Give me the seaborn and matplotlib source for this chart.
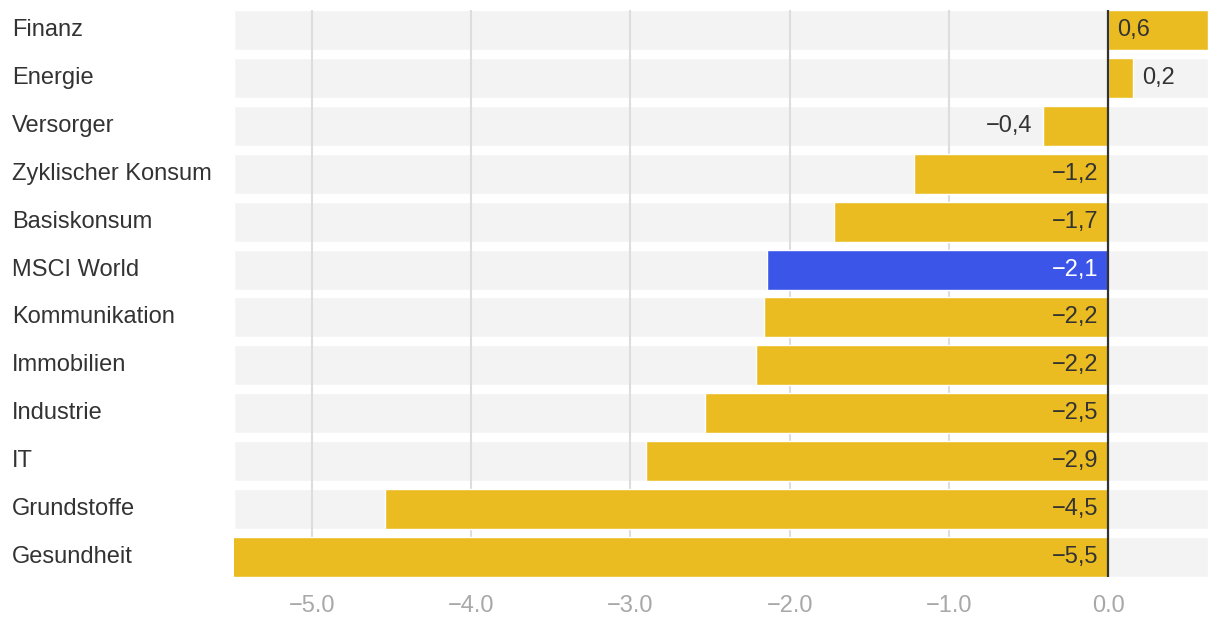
import matplotlib
matplotlib.use("Agg")
import matplotlib.pyplot as plt
from matplotlib.transforms import Bbox
import seaborn as sns
import numpy as np

categories = ["Finanz", "Energie", "Versorger", "Zyklischer Konsum", "Basiskonsum",
              "MSCI World", "Kommunikation", "Immobilien", "Industrie", "IT",
              "Grundstoffe", "Gesundheit"]
values = [0.63, 0.16, -0.41, -1.22, -1.72, -2.14, -2.16, -2.21, -2.53, -2.90, -4.54, -5.50]
value_labels = ["0,6", "0,2", "−0,4", "−1,2", "−1,7", "−2,1", "−2,2", "−2,2", "−2,5", "−2,9", "−4,5", "−5,5"]
highlight = "MSCI World"
tick_values = [-5.0, -4.0, -3.0, -2.0, -1.0, 0.0]
tick_labels = ["−5.0", "−4.0", "−3.0", "−2.0", "−1.0", "0.0"]

YELLOW = "#EBBC22"
BLUE = "#3A55E8"
BAND = "#F3F3F3"
GRID = "#DDDDDD"
TEXT = "#333333"

sns.set_theme(style="white")
plt.rcParams["font.family"] = ["Liberation Sans", "DejaVu Sans"]

fig = plt.figure(figsize=(12.2, 6.2), dpi=100)
ax = fig.add_axes([234/1220, 1 - 577/620, (1208-234)/1220, (577-10)/620])

xmin, xmax = -5.49, 0.628
bar_h = 40/48

# background bands
ax.barh(np.arange(len(categories)), [xmax - xmin]*len(categories), left=xmin,
        height=bar_h, color=BAND, zorder=0)
# grid lines
for t in tick_values[:-1]:
    ax.axvline(t, color=GRID, lw=1.5, zorder=1)

palette = {c: (BLUE if c == highlight else YELLOW) for c in categories}
sns.barplot(x=values, y=categories, hue=categories, palette=palette, orient="h",
            width=bar_h, legend=False, ax=ax, saturation=1)
for p in ax.patches[len(categories):]:
    p.set_zorder(2)

ax.axvline(0, color=TEXT, lw=1.6, zorder=4)

fs = 17
px_per_unit = 974 / (xmax - xmin)
for i, (v, lab, c) in enumerate(zip(values, value_labels, categories)):
    col = "white" if c == highlight else TEXT
    inside = abs(v) * px_per_unit > 85
    anchor = 0 if inside else v
    if v < 0:
        ax.annotate(lab, xy=(anchor, i), xytext=(-10/1.389, 0), textcoords="offset points",
                    ha="right", va="center", fontsize=fs, color=col, zorder=5)
    else:
        ax.annotate(lab, xy=(anchor, i), xytext=(9/1.389, 0), textcoords="offset points",
                    ha="left", va="center", fontsize=fs, color=col, zorder=5)

ax.set_xlim(xmin, xmax)
ax.set_ylim(len(categories) - 1 + bar_h/2, -bar_h/2)
ax.set_xticks(tick_values)
ax.set_xticklabels(tick_labels, fontsize=fs, color="#A8A8A8")
ax.set_yticks(range(len(categories)))
ax.set_yticklabels(categories, fontsize=fs, color=TEXT, ha="left", va="center")
ax.tick_params(axis="y", length=0, pad=222/1.389)
ax.tick_params(axis="x", length=0, pad=13.0)
ax.set_xlabel("")
ax.set_ylabel("")
for s in ax.spines.values():
    s.set_visible(False)
ax.grid(False)

clip = Bbox([[0, 8], [1220, 620]])
for lbl in ax.get_xticklabels():
    lbl.set_clip_box(clip)
    lbl.set_clip_on(True)

fig.savefig("out.png", dpi=100, facecolor="white")
